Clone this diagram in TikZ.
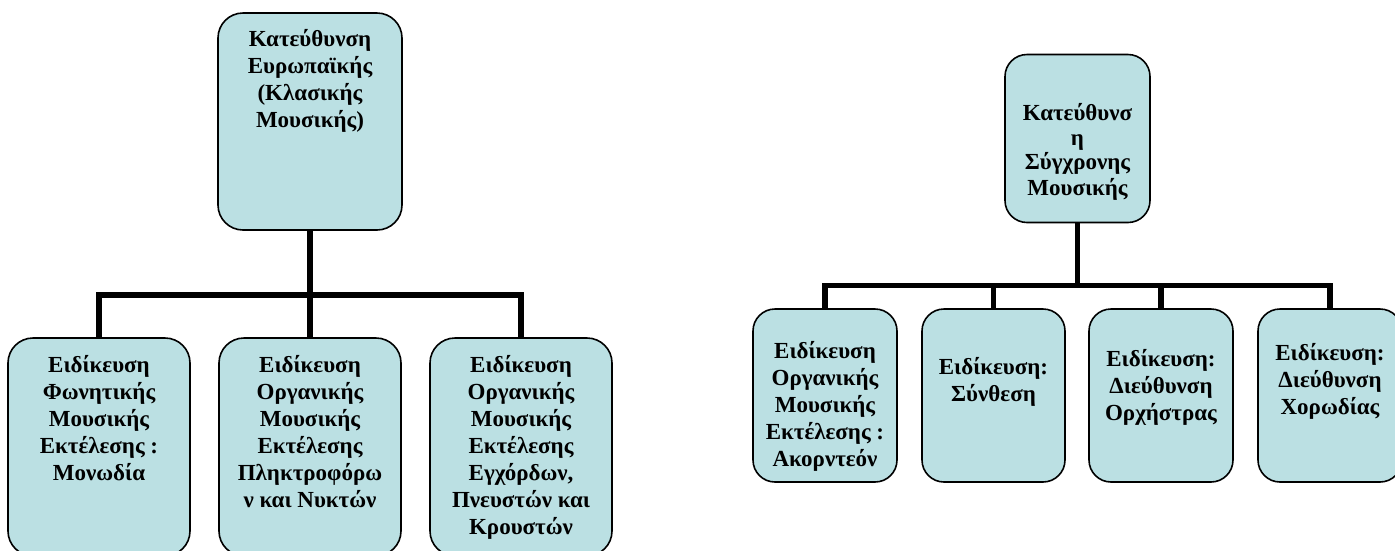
\documentclass[tikz,border=0pt]{standalone}
\usepackage{fontspec}
\setmainfont{Liberation Serif}
\definecolor{boxfill}{RGB}{187,224,227}
\begin{document}
\begin{tikzpicture}[x=1pt,y=-1pt,
  boxL/.style={draw=black,line width=1.6pt,fill=boxfill,rounded corners=25pt,inner sep=0pt},
  boxR/.style={draw=black,line width=1.6pt,fill=boxfill,rounded corners=22pt,inner sep=0pt},
  txt/.style={anchor=north,align=center,inner sep=0pt,font=\fontsize{23}{27}\selectfont\bfseries},
  conn/.style={draw=black,line width=5.5pt,line join=miter}]
\useasboundingbox (0,0) rectangle (1395,550);
\clip (0,0) rectangle (1395,550);
% left tree
\node[boxL,minimum width=184pt,minimum height=217pt] (T1) at (310,121.5) {};
\node[boxL,minimum width=182pt,minimum height=218pt] (L1) at (99,447) {};
\node[boxL,minimum width=182pt,minimum height=218pt] (L2) at (310,447) {};
\node[boxL,minimum width=182pt,minimum height=218pt] (L3) at (521,447) {};
\coordinate (barL) at (310,295);
\draw[conn] (L1.north) |- (barL) -| (L3.north);
\draw[conn] (T1.south) -- (L2.north);
\node[txt] (T1t) at ([yshift=-17pt]T1.north) {Κατεύθυνση\\Ευρωπαϊκής\\(Κλασικής\\Μουσικής)};
\node[txt] (L1t) at ([yshift=-18pt]L1.north) {Ειδίκευση\\Φωνητικής\\Μουσικής\\Εκτέλεσης :\\Μονωδία};
\node[txt] (L2t) at ([yshift=-18pt]L2.north) {Ειδίκευση\\Οργανικής\\Μουσικής\\Εκτέλεσης\\Πληκτροφόρω\\ν και Νυκτών};
\node[txt] (L3t) at ([yshift=-18pt]L3.north) {Ειδίκευση\\Οργανικής\\Μουσικής\\Εκτέλεσης\\Εγχόρδων,\\Πνευστών και\\Κρουστών};
% right tree
\node[boxR,minimum width=145pt,minimum height=168pt] (R0) at (1077.5,138.5) {};
\node[boxR,minimum width=144pt,minimum height=173pt] (R1) at (825,395.5) {};
\node[boxR,minimum width=143pt,minimum height=173pt] (R2) at (993.5,395.5) {};
\node[boxR,minimum width=144pt,minimum height=173pt] (R3) at (1161,395.5) {};
\node[boxR,minimum width=144pt,minimum height=173pt] (R4) at (1330,395.5) {};
\coordinate (barR) at (1077.5,285.5);
\draw[conn] (R1.north) |- (barR) -| (R4.north);
\draw[conn] (R0.south) -- (barR);
\draw[conn] (R2.north) -- (R2.north |- barR);
\draw[conn] (R3.north) -- (R3.north |- barR);
\node[txt,font=\fontsize{23}{25}\selectfont\bfseries] (R0t) at ([yshift=-49pt]R0.north) {Κατεύθυνσ\\η\\Σύγχρονης\\Μουσικής};
\node[txt] (R1t) at ([yshift=-33pt]R1.north) {Ειδίκευση\\Οργανικής\\Μουσικής\\Εκτέλεσης :\\Ακορντεόν};
\node[txt] (R2t) at ([yshift=-49pt]R2.north) {Ειδίκευση:\\Σύνθεση};
\node[txt] (R3t) at ([yshift=-41pt]R3.north) {Ειδίκευση:\\Διεύθυνση\\Ορχήστρας};
\node[txt] (R4t) at ([yshift=-35pt]R4.north) {Ειδίκευση:\\Διεύθυνση\\Χορωδίας};
\end{tikzpicture}
\end{document}
